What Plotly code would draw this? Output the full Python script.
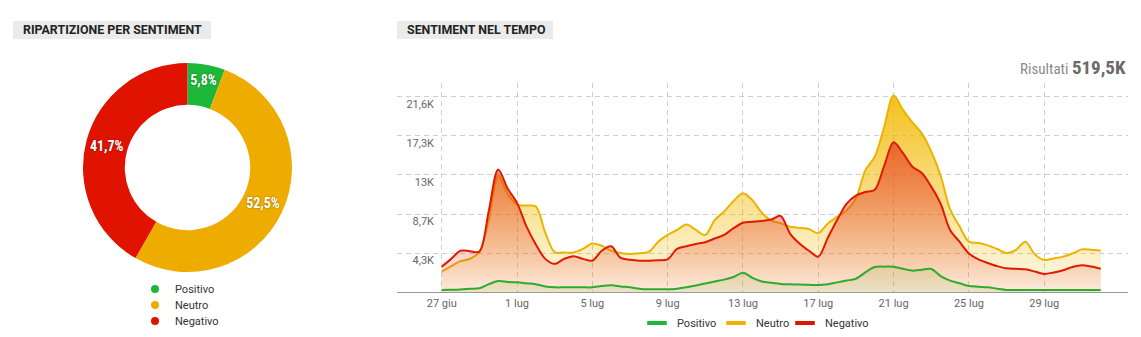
import pandas as pd
import plotly.graph_objects as go

# ---------------- data ----------------
pie_labels = ["Positivo", "Neutro", "Negativo"]
pie_values = [5.8, 52.5, 41.7]
pie_colors = ["#1db83a", "#efac00", "#e01200"]

start_date = "2024-06-27"
n_points = 71  # half-day samples, 27 giu -> 1 ago

negativo = [2830, 3700, 4600, 4550, 4500, 9000, 13600, 11500, 9900, 7300,
            5300, 3700, 3150, 3700, 4000, 3700, 3500, 4600, 5100, 3800,
            3600, 3500, 3500, 3550, 3650, 4800, 5100, 5350, 5550, 5950,
            6350, 7100, 7700, 7800, 7900, 8050, 8450, 6500, 5400, 4600,
            3950, 6000, 8000, 9800, 10700, 11100, 11350, 14000, 16600, 15400,
            13900, 13200, 11700, 9800, 6900, 5600, 4300, 3650, 3250, 2900,
            2650, 2600, 2550, 2300, 2030, 2200, 2450, 2800, 3000, 2850,
            2610]
neutro = [2280, 2900, 3450, 3700, 4490, 8000, 12900, 10900, 9700, 9600,
          9500, 6600, 4450, 4400, 4400, 4800, 5400, 5150, 4600, 4350,
          4250, 4320, 4480, 5600, 6350, 6900, 7500, 6900, 6340, 8000,
          8950, 10100, 10960, 10200, 8800, 7950, 7650, 7260, 7150, 7000,
          6550, 7600, 8350, 9050, 10400, 13500, 15000, 18300, 21800, 20200,
          18800, 17600, 15600, 12900, 9200, 7300, 5600, 5450, 5200, 4800,
          4350, 4700, 5600, 4200, 3580, 3750, 3950, 4300, 4750, 4700,
          4600]
positivo = [250, 280, 320, 380, 440, 900, 1250, 1150, 1100, 1000,
            900, 650, 550, 550, 550, 550, 550, 700, 770, 650,
            560, 400, 330, 330, 330, 400, 550, 750, 980, 1200,
            1400, 1700, 2170, 1600, 1200, 1050, 920, 880, 850, 830,
            810, 900, 1100, 1300, 1500, 2200, 2800, 2840, 2830, 2600,
            2400, 2500, 2580, 1800, 1300, 1000, 700, 620, 560, 400,
            260, 255, 255, 255, 255, 255, 255, 255, 255, 255,
            255]

x_tick_vals = ["2024-06-27", "2024-07-01", "2024-07-05", "2024-07-09", "2024-07-13",
               "2024-07-17", "2024-07-21", "2024-07-25", "2024-07-29"]
x_tick_text = ["27 giu", "1 lug", "5 lug", "9 lug", "13 lug", "17 lug", "21 lug", "25 lug", "29 lug"]
y_tick_vals = [4330, 8660, 12990, 17320, 21650]
y_tick_text = ["4,3K", "8,7K", "13K", "17,3K", "21,6K"]

dates = pd.date_range(start_date, periods=n_points, freq="12h")

FONT = "Roboto, Arial, sans-serif"
NARROW = "Liberation Sans Narrow, Roboto Condensed, Roboto, Arial, sans-serif"
W, H = 1141, 337

fig = go.Figure()

# ---------------- donut ----------------
fig.add_trace(go.Pie(
    labels=pie_labels, values=pie_values, sort=False, direction="clockwise",
    hole=0.6, marker=dict(colors=pie_colors, line=dict(width=0)),
    texttemplate="%{value:.1f}%", textposition="inside",
    insidetextorientation="horizontal",
    textfont=dict(color="white", size=14, family=NARROW, weight="bold",
                  shadow="0px 0px 2px rgba(0,0,0,0.45)"),
    domain=dict(x=[83 / W, 292 / W], y=[(H - 272) / H, (H - 63) / H]),
    showlegend=False, hoverinfo="skip",
))

# pie legend (circle markers), one legend box per entry
pie_leg_names = ["legend4", "legend5", "legend6"]
for lab, col, lg in zip(pie_labels, pie_colors, pie_leg_names):
    fig.add_trace(go.Scatter(x=[None], y=[None], mode="markers", name=lab,
                             marker=dict(symbol="circle", size=8, color=col),
                             legend=lg, xaxis="x", yaxis="y"))

# ---------------- area chart ----------------
series = [
    ("Neutro", neutro, "#eab400", "rgba(242,185,0,0.07)", "rgba(242,185,0,0.88)"),
    ("Negativo", negativo, "#e01a00", "rgba(226,40,20,0.07)", "rgba(226,40,20,0.62)"),
]
for name, vals, lc, c0, c1 in series:
    fig.add_trace(go.Scatter(
        x=dates, y=vals, mode="lines", name=name, showlegend=False,
        line=dict(color=lc, width=2, shape="spline", smoothing=0.9),
        fill="tozeroy",
        fillgradient=dict(type="vertical", colorscale=[[0, c0], [1, c1]],
                          start=0, stop=max(vals)),
        hoverinfo="skip",
    ))
fig.add_trace(go.Scatter(
    x=dates, y=positivo, mode="lines", name="Positivo", showlegend=False,
    line=dict(color="#2eaa2e", width=2, shape="spline", smoothing=0.9),
    fill="tozeroy", fillcolor="rgba(120,165,40,0.13)", hoverinfo="skip",
))

# line-chart legend, one legend box per entry
line_leg_names = ["legend", "legend2", "legend3"]
for lab, col, lg in zip(["Positivo", "Neutro", "Negativo"], ["#1db83a", "#efb000", "#e01200"], line_leg_names):
    fig.add_trace(go.Scatter(x=[None], y=[None], mode="markers", name=lab,
                             marker=dict(symbol="line-ew", size=14,
                                         line=dict(color=col, width=4)),
                             legend=lg, xaxis="x", yaxis="y"))

x0 = pd.Timestamp(start_date) - pd.Timedelta(days=2.374)
x1 = pd.Timestamp(start_date) + pd.Timedelta(days=36.45)


def leg(xpx, ypx):
    return dict(orientation="v", x=xpx / W, xanchor="left", y=(H - ypx) / H, yanchor="middle",
                font=dict(size=11, color="#333", family=FONT), bgcolor="rgba(0,0,0,0)",
                itemwidth=30)


fig.update_layout(
    width=W, height=H,
    margin=dict(l=0, r=0, t=0, b=0, autoexpand=False),
    paper_bgcolor="white", plot_bgcolor="white",
    separators=",.",
    font=dict(family=FONT, size=11, color="#555"),
    uniformtext=dict(minsize=14, mode="show"),
    xaxis=dict(domain=[397 / W, 1128 / W], type="date", range=[x0, x1],
               tickvals=x_tick_vals, ticktext=x_tick_text, automargin=False,
               showgrid=True, gridcolor="#cfcfcf", griddash="5px,4px", gridwidth=1,
               showline=True, linecolor="#9a9a9a", linewidth=1,
               ticks="", zeroline=False, tickfont=dict(size=11, color="#666"),
               fixedrange=True),
    yaxis=dict(domain=[(H - 292.3) / H, (H - 83) / H], range=[0, 23170],
               tickvals=y_tick_vals, ticktext=y_tick_text, automargin=False,
               showgrid=True, gridcolor="#cfcfcf", griddash="5px,4px", gridwidth=1,
               zeroline=False, showline=False, ticks="",
               ticklabelposition="outside", ticklabelstandoff=-38, ticklabelshift=7,
               tickfont=dict(size=11, color="#666"), fixedrange=True),
    legend=leg(637, 323),
    legend2=leg(716, 323),
    legend3=leg(785, 323),
    legend4=leg(135, 289),
    legend5=leg(135, 305),
    legend6=leg(135, 321),
    shapes=[
        dict(type="rect", xref="paper", yref="paper", x0=13 / W, x1=211 / W,
             y0=(H - 39) / H, y1=(H - 21) / H, fillcolor="#ebebeb", line=dict(width=0), layer="below"),
        dict(type="rect", xref="paper", yref="paper", x0=397 / W, x1=553 / W,
             y0=(H - 39) / H, y1=(H - 21) / H, fillcolor="#ebebeb", line=dict(width=0), layer="below"),
    ],
    annotations=[
        dict(text="<b>RIPARTIZIONE PER SENTIMENT</b>", xref="paper", yref="paper",
             x=21 / W, y=(H - 30) / H, xanchor="left", yanchor="middle", showarrow=False,
             font=dict(size=12.4, color="#222", family=FONT)),
        dict(text="<b>SENTIMENT NEL TEMPO</b>", xref="paper", yref="paper",
             x=405 / W, y=(H - 30) / H, xanchor="left", yanchor="middle", showarrow=False,
             font=dict(size=12.4, color="#222", family=FONT)),
        dict(text="Risultati <b><span style='font-size:19px;color:#6a6a6a'>519,5K</span></b>",
             xref="paper", yref="paper", x=1128 / W, y=(H - 68) / H,
             xanchor="right", yanchor="middle", showarrow=False,
             font=dict(size=15, color="#8a8a8a", family=NARROW)),
    ],
)

fig.write_html("out.html")
